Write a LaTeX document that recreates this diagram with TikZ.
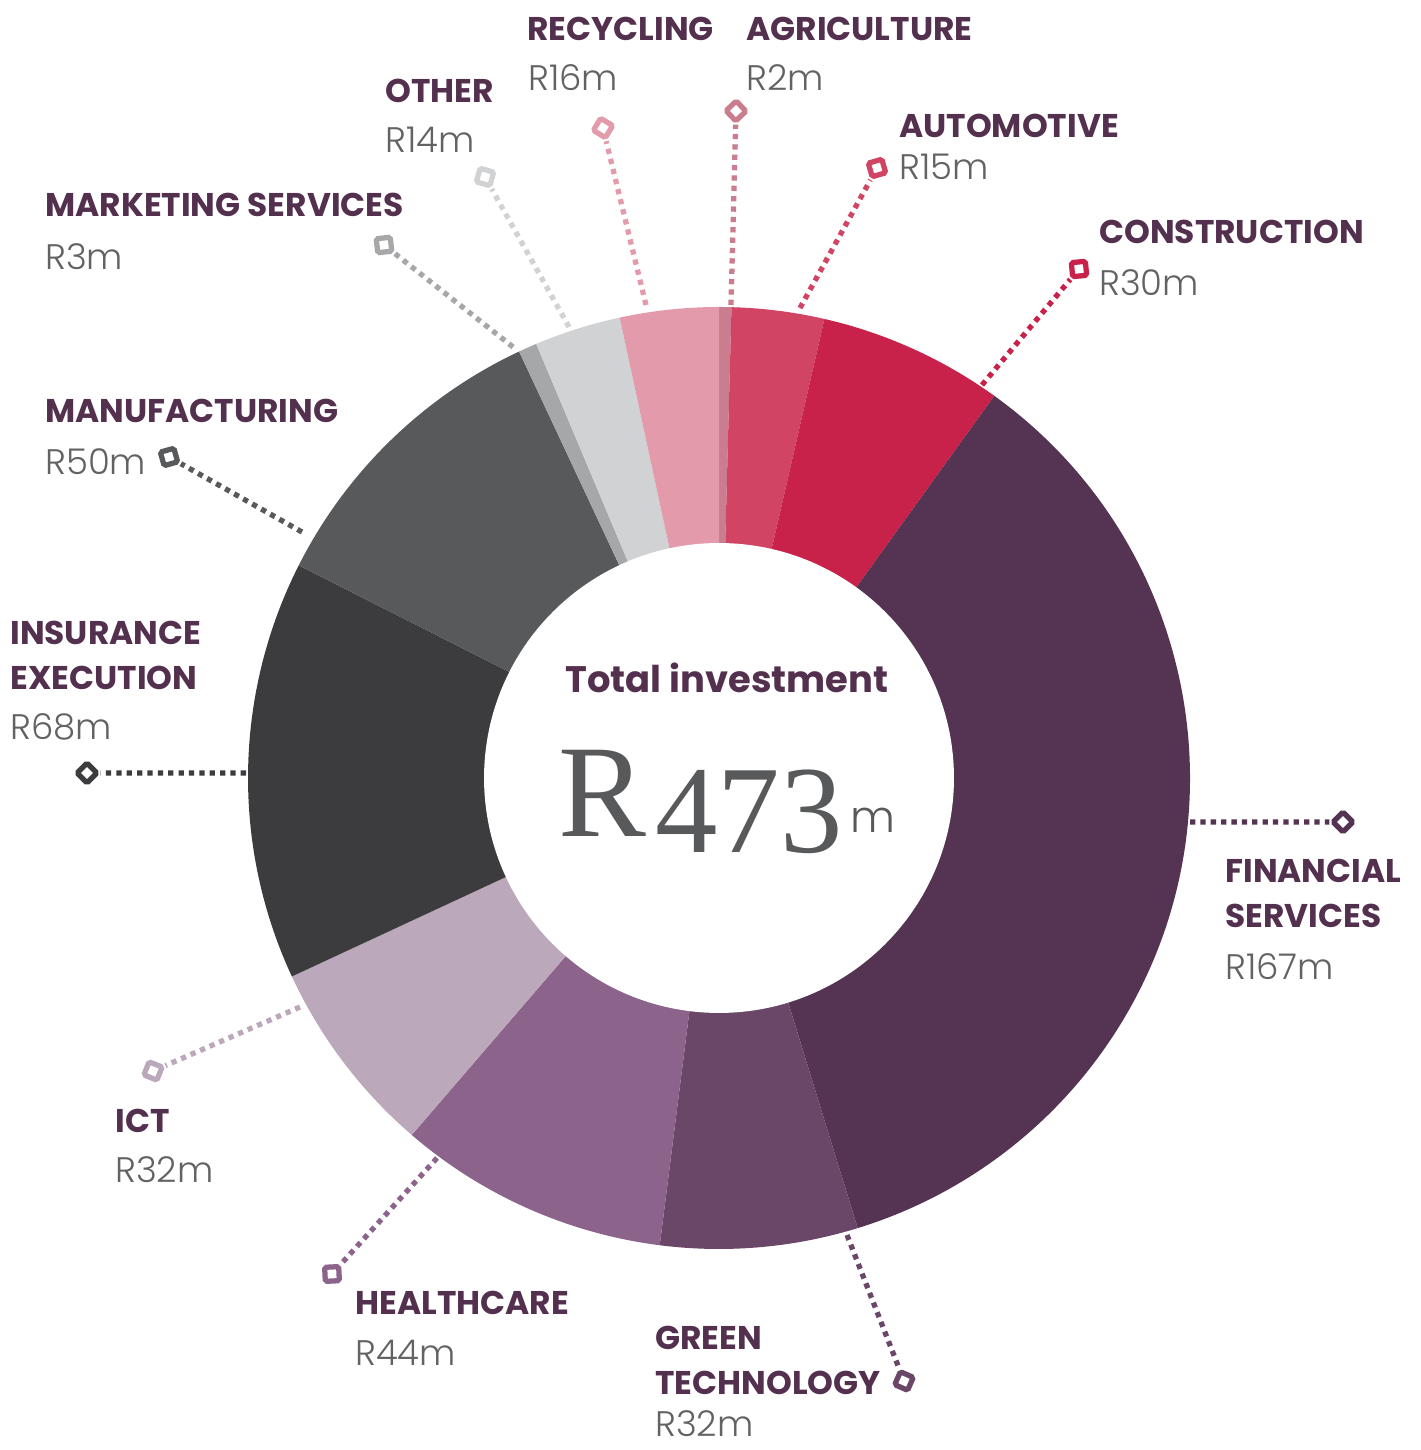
\documentclass[tikz,border=0pt]{standalone}
\usepackage{fontspec}
\setmainfont{Poppins}
\newfontfamily\valfont{Poppins Light}
\newfontfamily\numfont{Liberation Serif}

\definecolor{ttl}{HTML}{54304F}
\definecolor{vgray}{HTML}{616264}
\definecolor{numgray}{HTML}{58595B}
\definecolor{c-agri}{HTML}{C97D8E}
\definecolor{c-auto}{HTML}{D14464}
\definecolor{c-constr}{HTML}{C8224A}
\definecolor{c-fin}{HTML}{553352}
\definecolor{c-green}{HTML}{6A4768}
\definecolor{c-health}{HTML}{8B638B}
\definecolor{c-ict}{HTML}{BCA8BB}
\definecolor{c-insur}{HTML}{3C3C3E}
\definecolor{c-manuf}{HTML}{58595B}
\definecolor{c-mkt}{HTML}{A6A7A9}
\definecolor{c-other}{HTML}{D1D2D4}
\definecolor{c-recyc}{HTML}{E39BAC}

\tikzset{
  lbl/.style = {font=\bfseries\fontsize{18.7}{26}\selectfont, text=ttl, inner sep=0pt, anchor=base west, align=left},
  val/.style = {font=\valfont\fontsize{20.2}{26}\selectfont, text=vgray, inner sep=0pt, anchor=base west},
  dots/.style = {line width=3pt, dash pattern=on 3pt off 2.9pt},
  marker/.style = {draw=#1, fill=white, solid, line width=3pt, minimum size=8pt, inner sep=0pt, rounded corners=1pt}
}

% one sector of the ring: colour, start angle, end angle
\newcommand{\ringpart}[3]{\fill[#1] (ctr) -- ++(#2:471) arc[start angle=#2, end angle=#3, radius=471] -- cycle;}

\begin{document}
\begin{tikzpicture}[x=0.02cm, y=0.02cm]
  \useasboundingbox (0,0) rectangle (1420,1450);
  \coordinate (ctr) at (719,672);

  % ring
  \ringpart{c-agri}{90}{88.478}
  \ringpart{c-auto}{88.478}{77.061}
  \ringpart{c-constr}{77.061}{54.228}
  \ringpart{c-fin}{54.228}{-72.875}
  \ringpart{c-green}{-72.875}{-97.230}
  \ringpart{c-health}{-97.230}{-130.719}
  \ringpart{c-ict}{-130.719}{-155.074}
  \ringpart{c-insur}{-155.074}{-206.829}
  \ringpart{c-manuf}{-206.829}{-244.884}
  \ringpart{c-mkt}{-244.884}{-247.167}
  \ringpart{c-other}{-247.167}{-257.822}
  \ringpart{c-recyc}{-257.822}{-270}
  \node[circle, fill=white, minimum size=9.4cm, inner sep=0pt] (hub) at (ctr) {};

  % centre
  \node[font=\bfseries\fontsize{21}{25}\selectfont, text=ttl, anchor=base, inner sep=0pt] (total) at (727,757) {Total investment};
  \node[font=\numfont\fontsize{75}{80}\selectfont, text=numgray, anchor=base west, inner sep=0pt] (bigr) at (558,613) {R};
  \node[font=\numfont\fontsize{71}{76}\selectfont, text=numgray, anchor=base west, inner sep=0pt] (bignum) at (655,597) {473};
  \node[font=\valfont\fontsize{25}{28}\selectfont, text=numgray, anchor=base west, inner sep=0pt] (bigm) at (850,617) {m};

  % labels
  \node[lbl] (recyc-t) at (527,1409) {RECYCLING};
  \node[val] (recyc-v) at (528,1359) {R16m};
  \node[lbl] (agri-t) at (746,1409) {AGRICULTURE};
  \node[val] (agri-v) at (746,1359) {R2m};
  \node[lbl] (auto-t) at (899,1312) {AUTOMOTIVE};
  \node[val] (auto-v) at (899,1270) {R15m};
  \node[lbl] (constr-t) at (1099,1206) {CONSTRUCTION};
  \node[val] (constr-v) at (1099,1154) {R30m};
  \node[lbl] (other-t) at (385,1347) {OTHER};
  \node[val] (other-v) at (385,1297) {R14m};
  \node[lbl] (mkt-t) at (45,1233) {MARKETING SERVICES};
  \node[val] (mkt-v) at (45,1180) {R3m};
  \node[lbl] (manuf-t) at (45,1027) {MANUFACTURING};
  \node[val] (manuf-v) at (45,975) {R50m};
  \node[lbl] (insur-t) at (10,760) {INSURANCE\\EXECUTION};
  \node[val] (insur-v) at (10,710) {R68m};
  \node[lbl] (fin-t) at (1225,522) {FINANCIAL\\SERVICES};
  \node[val] (fin-v) at (1225,470) {R167m};
  \node[lbl] (ict-t) at (115,317) {ICT};
  \node[val] (ict-v) at (115,267) {R32m};
  \node[lbl] (health-t) at (355,135) {HEALTHCARE};
  \node[val] (health-v) at (355,84) {R44m};
  \node[lbl] (green-t) at (655,55) {GREEN\\TECHNOLOGY};
  \node[val, text depth=0pt] (green-v) at (655,13) {R32m};

  % leader lines
  \coordinate (agri-s) at (731,1145);
  \node[marker=c-agri, rotate=133.5] (agri-m) at (736,1339) {};
  \draw[dots, c-agri] (agri-s) -- (agri-m);
  \coordinate (recyc-s) at (646,1145);
  \node[marker=c-recyc, rotate=148.7] (recyc-m) at (603,1322) {};
  \draw[dots, c-recyc] (recyc-s) -- (recyc-m);
  \coordinate (auto-s) at (800,1142);
  \node[marker=c-auto, rotate=106.2] (auto-m) at (877,1282) {};
  \draw[dots, c-auto] (auto-s) -- (auto-m);
  \coordinate (constr-s) at (982,1065);
  \node[marker=c-constr, rotate=95.1] (constr-m) at (1079,1181) {};
  \draw[dots, c-constr] (constr-s) -- (constr-m);
  \coordinate (other-s) at (569,1123);
  \node[marker=c-other, rotate=164.2] (other-m) at (485,1273) {};
  \draw[dots, c-other] (other-s) -- (other-m);
  \coordinate (mkt-s) at (513,1103);
  \node[marker=c-mkt, rotate=186.7] (mkt-m) at (384,1205) {};
  \draw[dots, c-mkt] (mkt-s) -- (mkt-m);
  \coordinate (manuf-s) at (302,918);
  \node[marker=c-manuf, rotate=195.6] (manuf-m) at (169,993) {};
  \draw[dots, c-manuf] (manuf-s) -- (manuf-m);
  \coordinate (insur-s) at (246,677);
  \node[marker=c-insur, rotate=45] (insur-m) at (87,677) {};
  \draw[dots, c-insur] (insur-s) -- (insur-m);
  \coordinate (fin-s) at (1190,628);
  \node[marker=c-fin, rotate=45] (fin-m) at (1343,628) {};
  \draw[dots, c-fin] (fin-s) -- (fin-m);
  \coordinate (ict-s) at (300,443);
  \node[marker=c-ict, rotate=248.5] (ict-m) at (153,379) {};
  \draw[dots, c-ict] (ict-s) -- (ict-m);
  \coordinate (health-s) at (437,292);
  \node[marker=c-health, rotate=272.8] (health-m) at (332,176) {};
  \draw[dots, c-health] (health-s) -- (health-m);
  \coordinate (green-s) at (847,215);
  \node[marker=c-green, rotate=-23.7] (green-m) at (904,69) {};
  \draw[dots, c-green] (green-s) -- (green-m);
\end{tikzpicture}
\end{document}
